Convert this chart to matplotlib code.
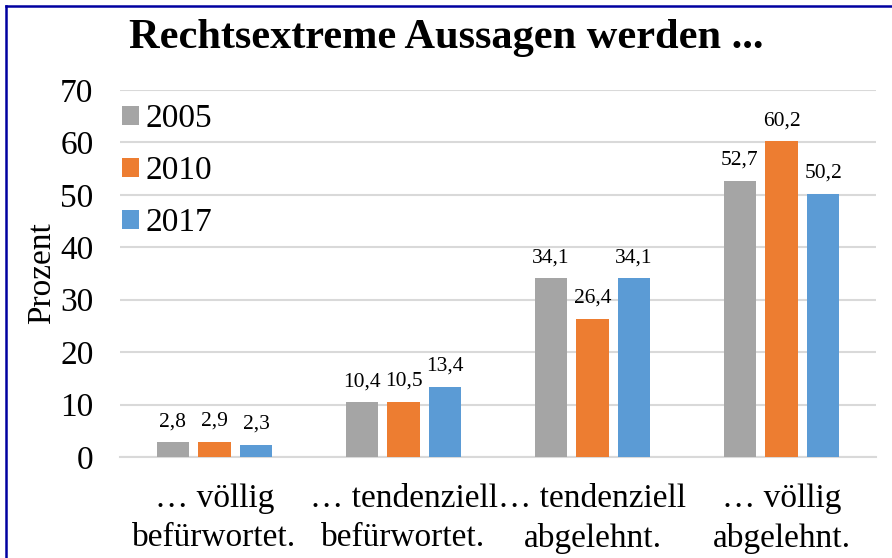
import numpy as np
import matplotlib.pyplot as plt
from matplotlib.lines import Line2D

plt.rcParams['font.family'] = ['Liberation Serif', 'DejaVu Serif']

categories = ["… völlig\nbefürwortet.", "… tendenziell\nbefürwortet.",
              "… tendenziell\nabgelehnt.", "… völlig\nabgelehnt."]
years = ["2005", "2010", "2017"]
v2005 = [2.8, 10.4, 34.1, 52.7]
v2010 = [2.9, 10.5, 26.4, 60.2]
v2017 = [2.3, 13.4, 34.1, 50.2]
colors = ["#A5A5A5", "#ED7D31", "#5B9BD5"]

fig = plt.figure(figsize=(8.92, 5.58), dpi=100)
ax = fig.add_axes([120/892, 1-457/558, (876-120)/892, (457-90)/558])

x = np.arange(len(categories))
w = 0.17
step = 0.22
for i, (vals, yr, c) in enumerate(zip([v2005, v2010, v2017], years, colors)):
    bars = ax.bar(x + (i-1)*step, vals, w, color=c, label=yr, zorder=3)
    for b, v in zip(bars, vals):
        ax.annotate(f"{v:.1f}".replace(".", ","), (b.get_x()+b.get_width()/2, v),
                    xytext=(0, 8), textcoords="offset points",
                    ha="center", va="bottom", fontsize=15.5)

ax.set_xlim(-0.5, 3.5)
ax.set_ylim(0, 70)
ax.set_yticks(range(0, 71, 10))
ax.tick_params(axis='y', labelsize=24, length=0, pad=19)
ax.tick_params(axis='x', labelsize=24, length=0, pad=19)
ax.set_xticks(x)
ax.set_xticklabels(categories, linespacing=1.38)
ax.grid(axis='y', color='#D9D9D9', linewidth=1.5, zorder=0)
for s in ['top', 'right', 'left']:
    ax.spines[s].set_visible(False)
ax.spines['bottom'].set_color('#D9D9D9')
ax.spines['bottom'].set_linewidth(1.5)
ax.set_ylabel("Prozent", fontsize=24, labelpad=2)

leg = ax.legend(loc='upper left', bbox_to_anchor=(-0.015, 1.0), frameon=False,
                fontsize=24, handlelength=0.5, handleheight=0.5,
                handletextpad=0.2, labelspacing=0.65, borderaxespad=0)

fig.text(0.5, 1-38/558, "Rechtsextreme Aussagen werden ...", ha='center', va='center',
         fontsize=30.5, fontweight='bold')

fig.add_artist(Line2D([0.0067, 0.0067], [0, 0.989], transform=fig.transFigure,
                      color='#0000A0', linewidth=1.8))
fig.add_artist(Line2D([0.0067, 1], [0.989, 0.989], transform=fig.transFigure,
                      color='#0000A0', linewidth=1.8))

fig.savefig("out.png", dpi=100)
